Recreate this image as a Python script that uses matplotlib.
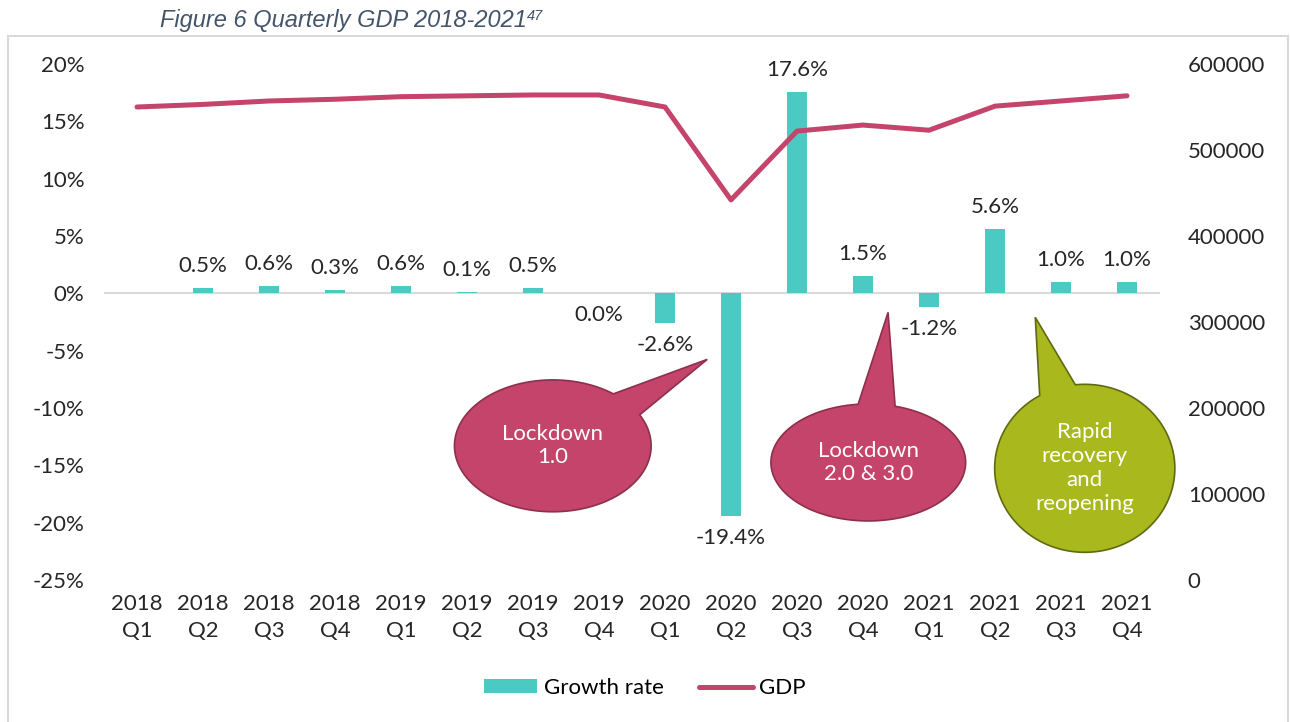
import numpy as np
import matplotlib.pyplot as plt
from matplotlib.patches import Polygon, Rectangle
from matplotlib.ticker import FuncFormatter, MultipleLocator

plt.rcParams['font.family'] = ['Lato', 'DejaVu Sans']

# quarterly data
quarters = ["2018\nQ1", "2018\nQ2", "2018\nQ3", "2018\nQ4",
            "2019\nQ1", "2019\nQ2", "2019\nQ3", "2019\nQ4",
            "2020\nQ1", "2020\nQ2", "2020\nQ3", "2020\nQ4",
            "2021\nQ1", "2021\nQ2", "2021\nQ3", "2021\nQ4"]
growth = [None, 0.5, 0.6, 0.3, 0.6, 0.1, 0.5, 0.0,
          -2.6, -19.4, 17.6, 1.5, -1.2, 5.6, 1.0, 1.0]
gdp = [550000, 553000, 557000, 559000, 562000, 563000, 564000, 564000,
       550000, 442000, 522000, 529000, 523000, 551000, 557000, 563000]

TEAL = "#4BC9C3"
PINK = "#C4446B"
OLIVE = "#A9B81D"
TEXT = "#262626"
FS = 16

fig = plt.figure(figsize=(12.9, 7.22), dpi=100)
ax = fig.add_axes([104 / 1290, 1 - 580 / 722, 1056 / 1290, 516 / 722])
ax2 = ax.twinx()

x = np.arange(len(quarters))
vals = np.array([np.nan if g is None else g for g in growth])
ax.bar(x, vals, width=0.3, color=TEAL, zorder=3, label="Growth rate")
ax.axhline(0, color="#D9D9D9", lw=1.5, zorder=2)

for xi, v in zip(x, growth):
    if v is None:
        continue
    if v > 0:
        ax.annotate(f"{v:.1f}%", (xi, v), xytext=(0, 12), textcoords="offset pixels",
                    ha="center", va="bottom", fontsize=FS, color=TEXT, zorder=5)
    else:
        ax.annotate(f"{v:.1f}%", (xi, v), xytext=(0, -12), textcoords="offset pixels",
                    ha="center", va="top", fontsize=FS, color=TEXT, zorder=5)

ax2.plot(x, gdp, color=PINK, lw=3.6, solid_capstyle="round", zorder=4, label="GDP")

ax.set_xlim(-0.5, len(quarters) - 0.5)
ax.set_ylim(-25, 20)
ax2.set_ylim(0, 600000)
ax.yaxis.set_major_locator(MultipleLocator(5))
ax.yaxis.set_major_formatter(FuncFormatter(lambda v, p: f"{v:.0f}%"))
ax2.yaxis.set_major_locator(MultipleLocator(100000))
ax2.yaxis.set_major_formatter(FuncFormatter(lambda v, p: f"{v:.0f}"))
ax.set_xticks(x)
ax.set_xticklabels(quarters)

for a in (ax, ax2):
    for s in a.spines.values():
        s.set_visible(False)
    a.tick_params(length=0, labelsize=FS, colors=TEXT)
ax.tick_params(axis="y", pad=14)
ax2.tick_params(axis="y", pad=20)
ax.tick_params(axis="x", pad=10)
for lbl in ax.get_xticklabels():
    lbl.set_linespacing(1.45)


def callout(a, cx, cy, w, h, t1, t2, tip, fc, ec, text, spacing=1.2):
    # ellipse with a pointed tail, in data coordinates
    th = np.radians(np.linspace(t1, t2 + 360 if t2 < t1 else t2, 200))
    pts = np.column_stack([cx + w / 2 * np.cos(th), cy + h / 2 * np.sin(th)])
    pts = np.vstack([pts, tip])
    a.add_patch(Polygon(pts, closed=True, fc=fc, ec=ec, lw=1.2, zorder=6,
                        clip_on=False))
    a.text(cx, cy, text, ha="center", va="center", color="white",
           fontsize=FS, linespacing=spacing, zorder=7)


callout(ax, 6.30, -13.3, 2.98, 11.5, 52, 28, (8.64, -5.76),
        PINK, "#8E2F4C", "Lockdown\n1.0")
callout(ax, 11.08, -14.75, 2.95, 10.2, 96, 74, (11.38, -1.66),
        PINK, "#8E2F4C", "Lockdown\n2.0 & 3.0")
callout(ax, 14.36, -15.26, 2.73, 14.65, 120, 96, (13.61, -2.09),
        OLIVE, "#5F6A10", "Rapid\nrecovery\nand\nreopening", spacing=1.25)

h1, l1 = ax.get_legend_handles_labels()
h2, l2 = ax2.get_legend_handles_labels()
fig.legend(h1 + h2, l1 + l2, loc="center", bbox_to_anchor=(0.5, 1 - 688 / 722),
           ncol=2, frameon=False, fontsize=FS, handlelength=2.4,
           handleheight=0.6, handletextpad=0.3, columnspacing=1.6)

# chart frame and caption
fig.patches.append(Rectangle((8 / 1290, -0.01), 1280 / 1290, 1 - 36 / 722 + 0.01,
                             transform=fig.transFigure, fill=False,
                             ec="#D9D9D9", lw=1.5))
cap = fig.text(160 / 1290, 1 - 20 / 722, "Figure 6 Quarterly GDP 2018-2021",
               family="Liberation Sans", style="italic", fontsize=17,
               color="#44546A", va="center")
ax.annotate("47", xy=(1.0, 1.0), xycoords=cap, ha="left", va="top",
            family="Liberation Sans", style="italic", fontsize=10.5, color="#44546A",
            annotation_clip=False)

fig.savefig("out.png", dpi=100)
